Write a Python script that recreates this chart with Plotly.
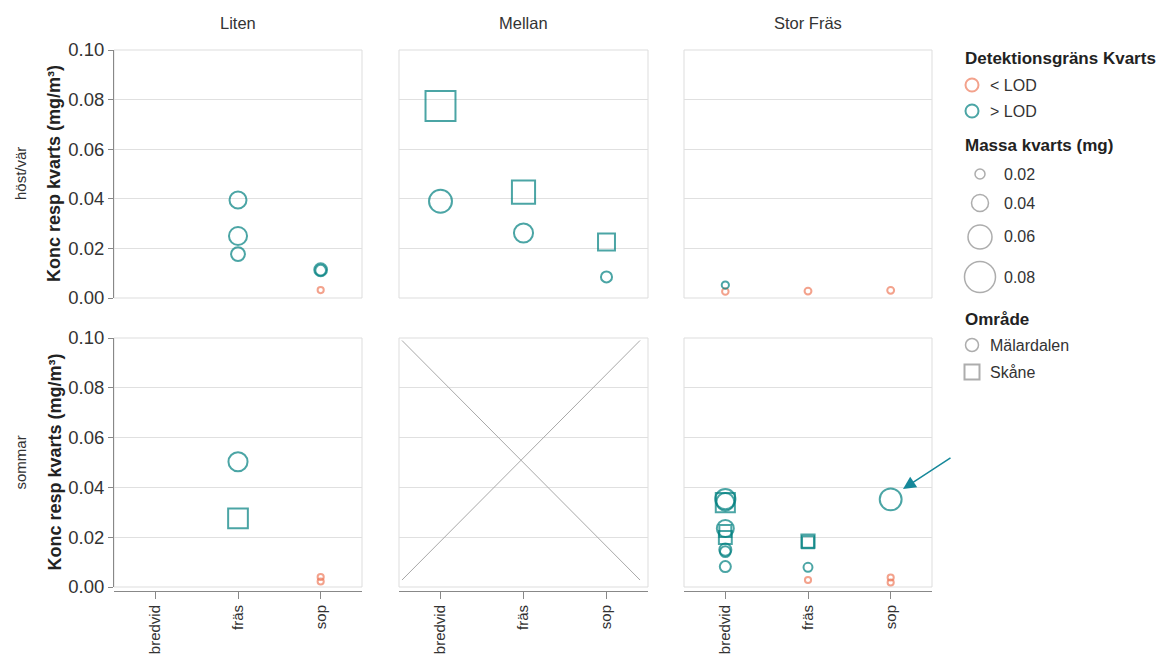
import plotly.graph_objects as go

# ---------------- data ----------------
storlekar = ["Liten", "Mellan", "Stor Fräs"]
sasonger = ["höst/vär", "sommar"]
placeringar = ["bredvid", "fräs", "sop"]
y_ticks = [0.0, 0.02, 0.04, 0.06, 0.08, 0.10]
lod_klasser = ["< LOD", "> LOD"]
omraden = ["Mälardalen", "Skåne"]
massa_legend = [0.02, 0.04, 0.06, 0.08]

storlek = (["Liten"] * 6 + ["Mellan"] * 6 + ["Stor Fräs"] * 4 +
           ["Liten"] * 4 + ["Stor Fräs"] * 16)
sasong = (["höst/vär"] * 16 + ["sommar"] * 20)
placering = (["fräs", "fräs", "fräs", "sop", "sop", "sop"] +
             ["bredvid", "bredvid", "fräs", "fräs", "sop", "sop"] +
             ["bredvid", "bredvid", "fräs", "sop"] +
             ["fräs", "fräs", "sop", "sop"] +
             ["bredvid"] * 9 + ["fräs"] * 4 + ["sop"] * 3)
konc = ([0.0395, 0.0250, 0.0177, 0.0114, 0.0112, 0.0032] +
        [0.0774, 0.0390, 0.0427, 0.0262, 0.0226, 0.0085] +
        [0.0052, 0.0026, 0.0028, 0.0031] +
        [0.0503, 0.0276, 0.0040, 0.0022] +
        [0.0353, 0.0339, 0.0342, 0.0235, 0.0225, 0.0199, 0.0150, 0.0142, 0.0082] +
        [0.0184, 0.0180, 0.0079, 0.0028] +
        [0.0352, 0.0038, 0.0018])
massa = ([0.040, 0.043, 0.031, 0.028, 0.022, 0.009] +
         [0.088, 0.057, 0.066, 0.046, 0.046, 0.023] +
         [0.012, 0.010, 0.011, 0.011] +
         [0.046, 0.055, 0.009, 0.009] +
         [0.049, 0.053, 0.042, 0.040, 0.030, 0.033, 0.026, 0.022, 0.023] +
         [0.034, 0.030, 0.017, 0.009] +
         [0.054, 0.009, 0.009])
lod = ([">", ">", ">", ">", ">", "<"] +
       [">"] * 6 +
       [">", "<", "<", "<"] +
       [">", ">", "<", "<"] +
       [">"] * 9 +
       [">", ">", ">", "<"] +
       [">", "<", "<"])
lod = [l + " LOD" for l in lod]
omrade = (["Mälardalen"] * 6 +
          ["Skåne", "Mälardalen", "Skåne", "Mälardalen", "Skåne", "Mälardalen"] +
          ["Mälardalen"] * 4 +
          ["Mälardalen", "Skåne", "Mälardalen", "Mälardalen"] +
          ["Mälardalen", "Skåne", "Mälardalen", "Mälardalen", "Skåne", "Skåne",
           "Mälardalen", "Mälardalen", "Mälardalen"] +
          ["Skåne", "Skåne", "Mälardalen", "Mälardalen"] +
          ["Mälardalen", "Mälardalen", "Mälardalen"])

# ---------------- styles ----------------
FONT = "Liberation Sans, Arial, sans-serif"
COLORS = {"< LOD": "#ef7b5c", "> LOD": "#008080"}
SYMBOLS = {"Mälardalen": "circle", "Skåne": "square"}
OPACITY = 0.7
GRID = "#e0e0e0"
AXIS = "#888888"

# page pixel geometry (the page body adds an 8 px offset)
OFF = 8
FW, FH = 1167 - OFF, 655 - OFF
L, R, T, B = 114 - OFF, 1167 - 932, 50 - OFF, 655 - 591
PW, PH = FW - L - R, FH - T - B


def px(x):
    return (x - OFF - L) / PW


def py(y):
    return 1 - (y - OFF - T) / PH


def diam(m, symbol="circle"):
    d = 3 + 350 * m
    return d / 1.128 if symbol == "square" else d


col_px = [(114, 362), (399, 648), (684, 932)]
row_px = [(50, 298), (338, 587)]

fig = go.Figure()

# ---------------- traces ----------------
for r, sas in enumerate(sasonger):
    for c, st in enumerate(storlekar):
        idx = r * 3 + c + 1
        # empty trace so that every facet (also an empty one) gets its axes
        fig.add_trace(go.Scatter(x=[None], y=[None], mode="markers",
                                 xaxis=f"x{idx}", yaxis=f"y{idx}",
                                 showlegend=False, hoverinfo="skip"))
        for lk in lod_klasser:
            for om in omraden:
                sel = [i for i in range(len(konc))
                       if storlek[i] == st and sasong[i] == sas and lod[i] == lk and omrade[i] == om]
                if not sel:
                    continue
                sym = SYMBOLS[om]
                fig.add_trace(go.Scatter(
                    x=[placering[i] for i in sel],
                    y=[konc[i] for i in sel],
                    mode="markers",
                    xaxis=f"x{idx}", yaxis=f"y{idx}",
                    cliponaxis=False,
                    showlegend=False,
                    marker=dict(symbol=sym,
                                size=[diam(massa[i], sym) for i in sel],
                                color="rgba(0,0,0,0)",
                                opacity=OPACITY,
                                line=dict(color=COLORS[lk], width=2)),
                ))

# ---------------- axes ----------------
layout = dict(
    width=FW, height=FH,
    margin=dict(l=L, r=R, t=T, b=B, autoexpand=False),
    paper_bgcolor="white", plot_bgcolor="white",
    font=dict(family=FONT, color="#333"),
    showlegend=False,
)
shapes = []
annotations = []

for r in range(2):
    for c in range(3):
        idx = r * 3 + c + 1
        sfx = "" if idx == 1 else str(idx)
        xd = [px(col_px[c][0]), px(col_px[c][1])]
        yd = [py(row_px[r][1]), py(row_px[r][0])]
        xd = [max(0, min(1, v)) for v in xd]
        yd = [max(0, min(1, v)) for v in yd]
        xa = dict(domain=xd, type="category", categoryorder="array",
                  categoryarray=placeringar, range=[-0.5, 2.5],
                  showgrid=False, zeroline=False, fixedrange=True, automargin=False)
        if r == 1:
            xa.update(anchor="free", position=0, showline=True, linecolor=AXIS,
                      linewidth=1, ticks="outside", ticklen=7, tickcolor=AXIS,
                      tickangle=-90, tickfont=dict(size=15, color="#333"))
        else:
            xa.update(anchor=f"y{idx}", showticklabels=False, ticks="", showline=False)
        ya = dict(domain=yd, range=[0, 0.1], anchor=f"x{idx}", tickvals=y_ticks,
                  showgrid=True, gridcolor=GRID, gridwidth=1, zeroline=False,
                  fixedrange=True, automargin=False)
        if c == 0:
            ya.update(showline=True, linecolor=AXIS, linewidth=1, ticks="outside",
                      ticklen=5, tickcolor=AXIS, tickformat=".2f",
                      tickfont=dict(size=18.5, color="#333"))
        else:
            ya.update(showticklabels=False, ticks="", showline=False)
        layout[f"xaxis{sfx}"] = xa
        layout[f"yaxis{sfx}"] = ya
        shapes.append(dict(type="rect", xref=f"x{sfx} domain", yref=f"y{sfx} domain",
                           x0=0, x1=1, y0=0, y1=1, layer="below",
                           line=dict(color="#dddddd", width=1),
                           fillcolor="rgba(0,0,0,0)"))

# empty panel cross (Mellan / sommar)
shapes.append(dict(type="line", xref="x5 domain", yref="y5 domain",
                   x0=0.012, y0=0.99, x1=0.968, y1=0.028,
                   line=dict(color="#a8a8a8", width=1)))
shapes.append(dict(type="line", xref="x5 domain", yref="y5 domain",
                   x0=0.968, y0=0.99, x1=0.012, y1=0.028,
                   line=dict(color="#a8a8a8", width=1)))

# column headers
for c, st in enumerate(storlekar):
    cx = (col_px[c][0] + col_px[c][1]) / 2
    annotations.append(dict(text=st, x=px(cx), y=py(23), xref="paper", yref="paper",
                            showarrow=False, xanchor="center", yanchor="middle",
                            font=dict(size=16.5, color="#333")))
# row headers + y titles
for r, sas in enumerate(sasonger):
    cy = (row_px[r][0] + row_px[r][1]) / 2
    annotations.append(dict(text=sas, x=px(20), y=py(cy), xref="paper", yref="paper",
                            showarrow=False, textangle=-90, xanchor="center",
                            yanchor="middle", font=dict(size=15, color="#333")))
    annotations.append(dict(text="Konc resp kvarts (mg/m³)", x=px(54), y=py(cy),
                            xref="paper", yref="paper", showarrow=False, textangle=-90,
                            xanchor="center", yanchor="middle",
                            font=dict(size=18, color="#222", weight="bold")))

# arrow
annotations.append(dict(text="", x=px(903), y=py(489), xref="paper", yref="paper",
                        ax=49, ay=-32, showarrow=True, arrowhead=2, arrowsize=1.7,
                        arrowwidth=1.5, arrowcolor="#16889a", standoff=0))

# ---------------- legend (manual) ----------------
def circle(cx, cy, d, color, opacity, width=2):
    return dict(type="circle", xref="paper", yref="paper", xsizemode="pixel",
                ysizemode="pixel", xanchor=px(cx), yanchor=py(cy),
                x0=-d / 2, x1=d / 2, y0=-d / 2, y1=d / 2,
                line=dict(color=color, width=width),
                fillcolor="rgba(0,0,0,0)", opacity=opacity)


def square(cx, cy, s, color, opacity, width=2):
    return dict(type="rect", xref="paper", yref="paper", xsizemode="pixel",
                ysizemode="pixel", xanchor=px(cx), yanchor=py(cy),
                x0=-s / 2, x1=s / 2, y0=-s / 2, y1=s / 2,
                line=dict(color=color, width=width),
                fillcolor="rgba(0,0,0,0)", opacity=opacity)


def text(t, x, y, size=16, bold=False, color="#333"):
    f = dict(size=size, color=color)
    if bold:
        f["weight"] = "bold"
    return dict(text=t, x=px(x), y=py(y), xref="paper", yref="paper",
                showarrow=False, xanchor="left", yanchor="middle", font=f)


LEG_X = 963
annotations.append(text("Detektionsgräns Kvarts", LEG_X, 59, 17, True, "#222"))
for k, (lk, yy) in enumerate(zip(lod_klasser, [85, 111])):
    shapes.append(circle(972, yy, 13, COLORS[lk], OPACITY))
    annotations.append(text(lk, 988, yy, 16))

annotations.append(text("Massa kvarts (mg)", LEG_X, 145, 17, True, "#222"))
for m, yy in zip(massa_legend, [174, 203, 237, 277]):
    shapes.append(circle(980, yy, diam(m), "#999999", 0.8, 1.5))
    annotations.append(text(f"{m:.2f}", 1002, yy, 16))

annotations.append(text("Område", LEG_X, 319, 17, True, "#222"))
shapes.append(circle(972, 345, 13, "#999999", 0.8, 1.5))
annotations.append(text("Mälardalen", 988, 345, 16))
shapes.append(square(972, 372, 15, "#999999", 0.8, 2))
annotations.append(text("Skåne", 988, 372, 16))

layout["shapes"] = shapes
layout["annotations"] = annotations
fig.update_layout(**layout)

fig.write_html("out.html")
